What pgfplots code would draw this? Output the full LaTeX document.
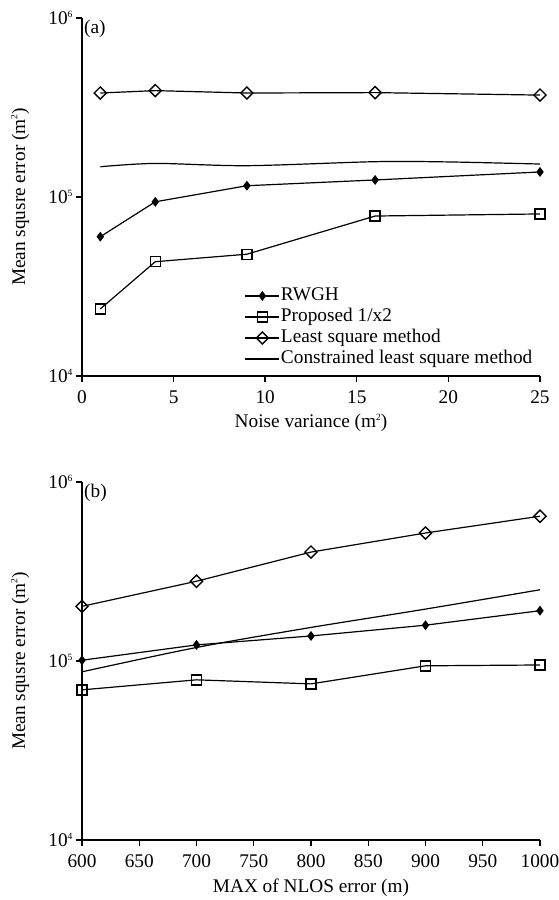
\documentclass[border=0pt]{standalone}
\usepackage{fontspec}
\setmainfont{Liberation Serif}
\usepackage{pgfplots}
\pgfplotsset{compat=1.18}
\newcommand{\sups}[1]{\raisebox{0.85ex}{\fontsize{9.5}{9.5}\selectfont #1}}
\newcommand{\myfont}{\fontsize{19.3}{23}\selectfont}
\tikzset{
 myrw/.style={black, line width=1.2pt, mark=diamond*, mark size=4pt, mark options={solid, fill=black}},
 mypr/.style={black, line width=1.2pt, mark=square, mark size=5pt, mark options={solid, fill=white, line width=1.4pt}},
 myls/.style={black, line width=1.2pt, mark=square, mark size=4.3pt, mark options={solid, fill=white, rotate=45, line width=1.4pt}},
 mycl/.style={black, line width=1.2pt, smooth},
}
\begin{document}
\begin{tikzpicture}
\begin{axis}[
  width=458pt, height=358pt, scale only axis,
  ymode=log, ymin=1e4, ymax=1e6,
  axis lines=left, axis line style={line width=1.4pt, -},
  ytick={1e4,1e5,1e6},
  yticklabels={10\sups{4},10\sups{5},10\sups{6}},
  yminorticks=false,
  tick style={line width=1.4pt, black},
  tick align=outside, major tick length=6pt,
  tick label style={font=\myfont},
  xticklabel style={yshift=-5pt},
  label style={font=\myfont},
  /pgf/number format/assume math mode=true,
  /pgf/number format/1000 sep={},
  ylabel={Mean squsre error (m\sups{2})},
  ylabel style={at={(axis description cs:-0.135,0.5)}, anchor=center, rotate=0},
  xlabel style={at={(axis description cs:0.5,0)}, anchor=center, yshift=-47pt},
  name=top, at={(0pt,0pt)}, anchor=north west,
  xmin=0, xmax=25, xtick={0,5,10,15,20,25},
  xlabel={Noise variance (m\sups{2})},
  legend image code/.code={\draw[mark repeat=2,mark phase=2] plot coordinates {(0pt,0pt)(17pt,0pt)(34pt,0pt)};},
  legend style={draw=none, fill=none, at={(0.355,0.252)}, anchor=north west,
    font=\myfont, row sep=1pt, inner sep=0pt,
    nodes={text height=14pt, text depth=4pt, inner sep=1pt},
    cells={anchor=west}},
]
\addplot[myrw] coordinates {(1,60000)(4,94000)(9,115600)(16,124500)(25,138000)};
\addlegendentry{RWGH}
\addplot[mypr] coordinates {(1,23700)(4,43500)(9,47900)(16,78300)(25,80400)};
\addlegendentry{Proposed 1/x2}
\addplot[myls] coordinates {(1,381000)(4,393000)(9,381000)(16,383000)(25,371000)};
\addlegendentry{Least square method}
\addplot[mycl, no marks] coordinates {(1,147600)(4,154000)(9,149600)(16,157500)(20,157000)(25,152800)};
\addlegendentry{Constrained least square method}
\node[anchor=north west, inner sep=2pt, font=\myfont] at (rel axis cs:0,1) {(a)};
\end{axis}
\begin{axis}[
  width=458pt, height=358pt, scale only axis,
  ymode=log, ymin=1e4, ymax=1e6,
  axis lines=left, axis line style={line width=1.4pt, -},
  ytick={1e4,1e5,1e6},
  yticklabels={10\sups{4},10\sups{5},10\sups{6}},
  yminorticks=false,
  tick style={line width=1.4pt, black},
  tick align=outside, major tick length=6pt,
  tick label style={font=\myfont},
  xticklabel style={yshift=-5pt},
  label style={font=\myfont},
  /pgf/number format/assume math mode=true,
  /pgf/number format/1000 sep={},
  ylabel={Mean squsre error (m\sups{2})},
  ylabel style={at={(axis description cs:-0.135,0.5)}, anchor=center, rotate=0},
  xlabel style={at={(axis description cs:0.5,0)}, anchor=center, yshift=-48pt},
  name=bot, at={(0pt,-464pt)}, anchor=north west,
  xmin=600, xmax=1000, xtick={600,650,...,1000},
  xlabel={MAX of NLOS error (m)},
]
\addplot[myrw] coordinates {(600,101000)(700,123000)(800,138000)(900,158500)(1000,191000)};
\addplot[mypr] coordinates {(600,69000)(700,78500)(800,74500)(900,94000)(1000,95000)};
\addplot[myls] coordinates {(600,202000)(700,279000)(800,406000)(900,519000)(1000,644000)};
\addplot[mycl, no marks] coordinates {(600,87000)(700,119000)(800,154000)(900,195000)(1000,250000)};
\node[anchor=north west, inner sep=2pt, font=\myfont] at (rel axis cs:0,1) {(b)};
\end{axis}
\pgfresetboundingbox
\path (-82pt,18pt) rectangle (476pt,-882pt);
\end{tikzpicture}
\end{document}
